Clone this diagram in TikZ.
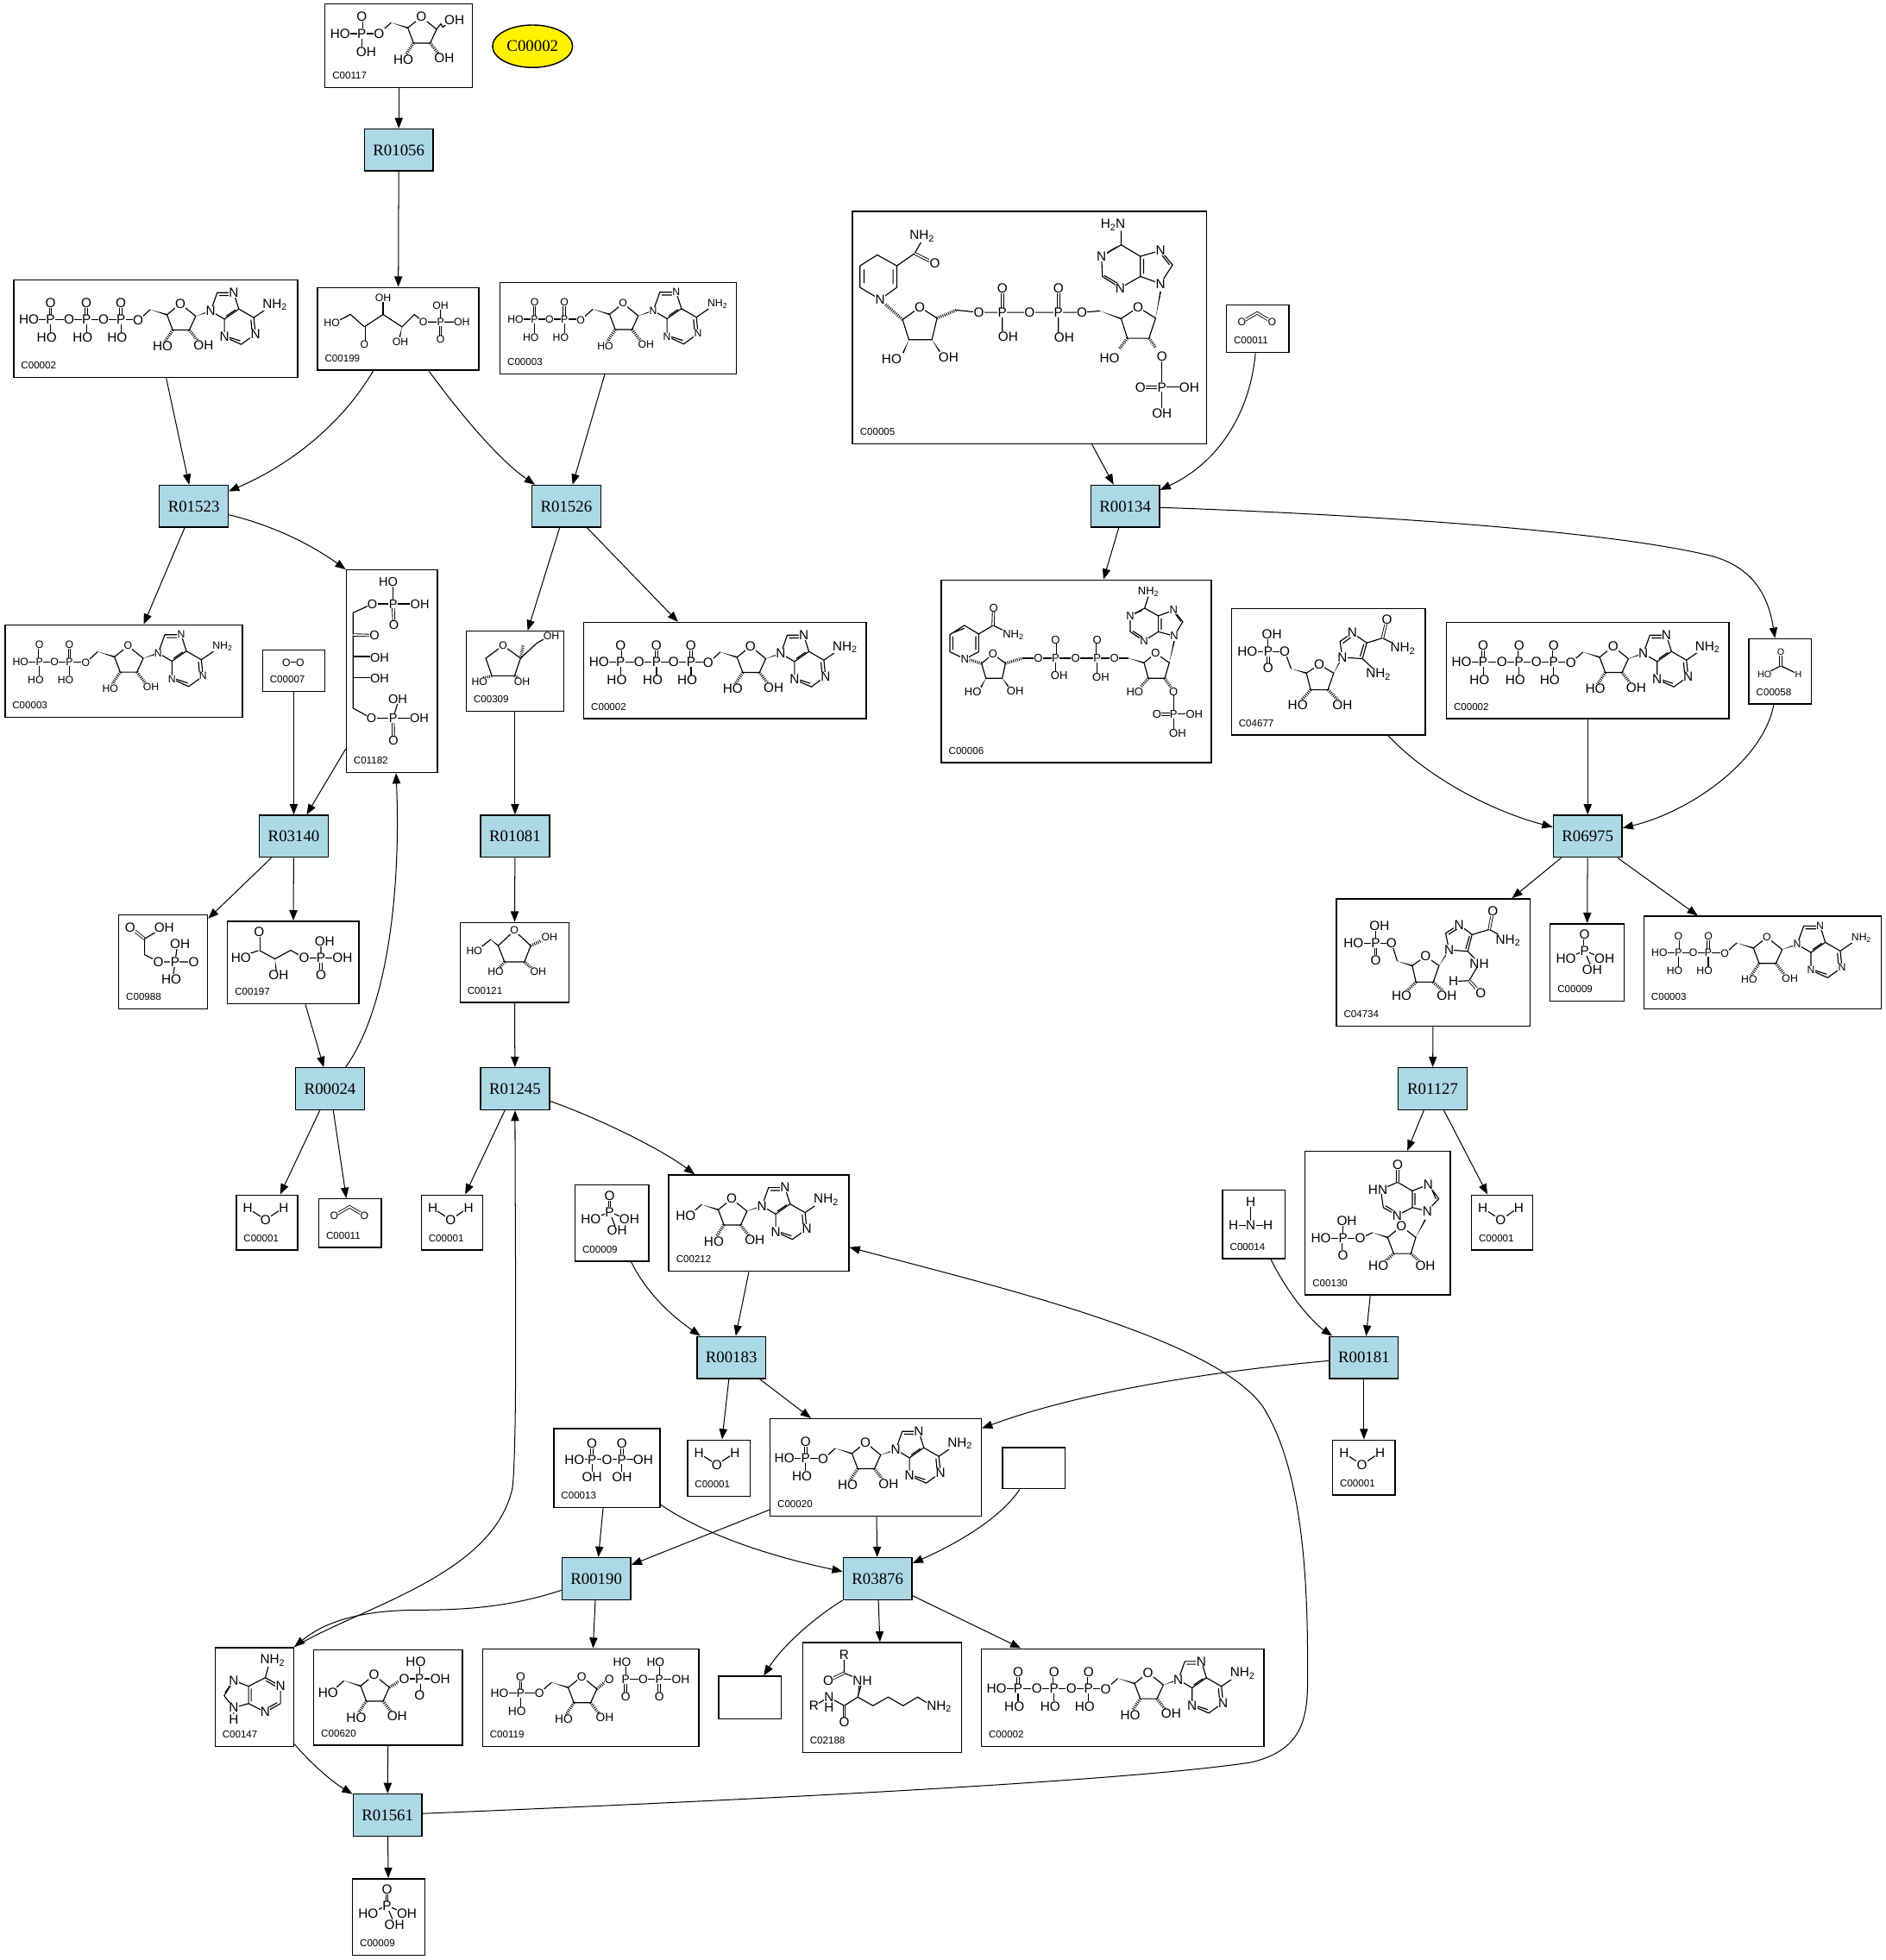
\documentclass[tikz,border=0pt]{standalone}
\usepackage{fontspec}
\setmainfont{Liberation Serif}
\newfontfamily\chemfont{Liberation Sans}
\usetikzlibrary{arrows.meta,calc,shapes.geometric}
\definecolor{rxnblue}{RGB}{173,216,230}

\newcommand{\atm}[2]{\node[atom] at (#1) {#2};}
\newcommand{\atomsz}[1]{\tikzset{atom/.append style={scale=#1}}}
\newcommand{\wdg}[2]{\fill (#1) -- ($(#2)!1.2pt!90:(#1)$) -- ($(#2)!1.2pt!-90:(#1)$) -- cycle;}
\newcommand{\hsh}[2]{\draw[hashb] (#1) -- (#2);}
\newcommand{\nhtwo}{NH\textsubscript{2}}
% phosphate, OH below
\newcommand{\phos}[2]{\begin{scope}[shift={(#1,#2)}]
  \draw[bond] (-60,0) -- (60,0) (0,0) -- (0,55);
  \draw[dbond] (0,0) -- (0,-58);
  \atm{0,-58}{O} \atm{-13,63}{HO} \atm{0,0}{P}
\end{scope}}
% phosphate, OH above
\newcommand{\phosu}[2]{\begin{scope}[shift={(#1,#2)}]
  \draw[bond] (-60,0) -- (60,0) (0,0) -- (0,-55);
  \draw[dbond] (0,0) -- (0,58);
  \atm{0,58}{O} \atm{13,-60}{OH} \atm{0,0}{P}
\end{scope}}
% ring, origin on the 5' oxygen
\newcommand{\ribo}[2]{\begin{scope}[shift={(#1,#2)}]
  \draw[bond] (0,0) -- (42,-38) (100,-20) -- (147,-58) -- (200,-15) -- (178,33) -- (120,33) -- cycle;
  \wdg{42,-38}{100,-20}
  \hsh{120,33}{92,75} \hsh{178,33}{208,72}
  \atm{147,-58}{O} \atm{85,90}{HO} \atm{227,85}{OH}
\end{scope}}
\newcommand{\ado}[2]{\ribo{#1}{#2}\begin{scope}[shift={(#1,#2)}]
  \draw[bond] (275,-97) -- (332,-97) -- (350,-40) -- (300,-5) -- (252,-33) -- cycle;
  \draw[bond] (300,-5) -- (300,57) -- (358,83) -- (408,47) -- (402,-10) -- (350,-40) (402,-10) -- (460,-50);
  \draw[bond] (281,-87) -- (325,-87) (338,-37) -- (306,-15) (309,56) -- (355,71) (396,40) -- (392,-3);
  \wdg{200,-15}{252,-33}
  \atm{252,-33}{N} \atm{332,-97}{N} \atm{300,57}{N} \atm{408,47}{N} \atm{475,-55}{\nhtwo}
\end{scope}}

\tikzset{
  bond/.style   = {line width=0.4pt},
  dbond/.style  = {bond, double, double distance=0.6pt, line width=0.3pt},
  hashb/.style  = {line width=1.2pt, dash pattern=on 0.3pt off 0.5pt},
  atom/.style   = {transform shape, fill=white, inner sep=0.5pt, text=black,
                   font=\chemfont\fontsize{23}{23}\selectfont},
  cpdbox/.style = {draw, line width=0.5pt, inner sep=0pt, fill=white},
  cidnd/.style  = {anchor=west, inner sep=0pt, font=\chemfont\fontsize{4}{4}\selectfont},
  rxn/.style    = {draw, line width=0.5pt, fill=rxnblue, inner sep=0pt, minimum width=27.5pt,
                   minimum height=16.8pt, font=\fontsize{6.5}{7}\selectfont},
  cpdoval/.style= {draw, ellipse, line width=0.5pt, fill=yellow, inner sep=0pt, minimum width=32pt,
                   minimum height=17pt, font=\fontsize{6.5}{7}\selectfont},
  pics/nostr/.style = {code={}},
  pics/atp/.style = {code={
    \phos{130}{140}\phos{255}{140}\phos{375}{140}
    \ado{435}{143}
    \atm{55,140}{HO} \atm{195,140}{O} \atm{315,140}{O} \atm{435,143}{O}}},
  pics/adp/.style = {code={
    \atomsz{0.8}
    \phos{122}{130}\phos{226}{130}
    \ado{283}{133}
    \atm{56,130}{HO} \atm{174,130}{O} \atm{283,133}{O}}},
  pics/amp/.style = {code={
    \phos{126}{139}
    \ado{187}{143}
    \atm{52,139}{HO} \atm{187,143}{O}}},
  pics/adn/.style = {code={
    \ado{74}{143}
    \atm{61,143}{HO}}},
  pics/rfive/.style = {code={
    \draw[bond] (130,106) -- (70,106) (130,106) -- (190,106) (130,106) -- (130,155);
    \draw[dbond] (130,106) -- (130,46);
    \draw[bond] (390,91) -- (405,72) -- (412,84) -- (432,66);
    \ribo{190}{106}
    \atm{130,46}{O} \atm{55,106}{HO} \atm{145,169}{OH} \atm{130,106}{P} \atm{190,106}{O} \atm{452,59}{OH}}},
  pics/rulp/.style = {code={
    \atomsz{0.8}
    \draw[bond] (70,120) -- (117,96) -- (165,139) -- (230,96) -- (296,139) -- (339,96) -- (370,122) -- (430,122) -- (490,122) (430,122) -- (430,75);
    \draw[bond] (230,96) -- (230,50);
    \draw[dbond] (165,139) -- (165,190);
    \draw[dbond] (430,122) -- (430,175);
    \wdg{296,139}{288,175}
    \atm{52,126}{HO} \atm{165,200}{O} \atm{230,39}{OH} \atm{290,190}{OH} \atm{370,122}{O}
    \atm{430,122}{P} \atm{430,65}{OH} \atm{504,122}{OH} \atm{430,183}{O}}},
  pics/rulring/.style = {code={
    \atomsz{0.8}
    \draw[bond] (70,96) -- (130,52) -- (191,96) -- (170,157) -- (91,157) -- cycle;
    \draw[bond] (191,96) -- (248,43) -- (285,22);
    \hsh{91,157}{62,165} \hsh{170,157}{190,170} \hsh{191,96}{200,50}
    \atm{130,52}{O} \atm{48,178}{HO} \atm{196,178}{OH} \atm{298,20}{OH}}},
  pics/otwo/.style = {code={
    \atomsz{0.8}
    \draw[dbond] (85,48) -- (133,48);
    \atm{85,48}{O} \atm{133,48}{O}}},
  pics/cotwo/.style = {code={
    \atomsz{0.8}
    \draw[dbond] (56,61) -- (109,30) -- (161,61);
    \atm{56,61}{O} \atm{161,61}{O}}},
  pics/water/.style = {code={
    \draw[bond] (42,48) -- (104,88) -- (167,46);
    \atm{42,48}{H} \atm{104,88}{O} \atm{167,46}{H}}},
  pics/ammonia/.style = {code={
    \draw[bond] (40,125) -- (160,125) (100,43) -- (100,125);
    \atm{100,43}{H} \atm{100,125}{N} \atm{40,125}{H} \atm{160,125}{H}}},
  pics/orthop/.style = {code={
    \draw[bond] (122,96) -- (60,122) (122,96) -- (185,122) (122,96) -- (148,161);
    \draw[dbond] (122,96) -- (122,39);
    \atm{122,39}{O} \atm{57,122}{HO} \atm{191,122}{OH} \atm{148,161}{OH} \atm{122,96}{P}}},
  pics/formate/.style = {code={
    \atomsz{0.7}
    \draw[bond] (56,126) -- (113,96) -- (174,126);
    \draw[dbond] (113,96) -- (113,48);
    \atm{113,48}{O} \atm{56,126}{HO} \atm{174,126}{H}}},
  pics/ppi/.style = {code={
    \draw[bond] (74,109) -- (313,109) (135,109) -- (135,160) (239,109) -- (239,160);
    \draw[dbond] (135,109) -- (135,52);
    \draw[dbond] (239,109) -- (239,52);
    \atm{135,52}{O} \atm{239,52}{O} \atm{74,109}{HO} \atm{187,109}{O} \atm{313,109}{OH}
    \atm{135,109}{P} \atm{239,109}{P} \atm{135,170}{OH} \atm{239,170}{OH}}},
  pics/adenine/.style = {code={
    \draw[bond] (67,117) -- (34,170) -- (67,212) -- (119,197) -- (119,137) -- cycle;
    \draw[bond] (119,137) -- (177,107) -- (230,137) -- (230,197) -- (177,227) -- (119,197) (177,107) -- (190,60) (67,212) -- (67,240);
    \draw[bond] (128,145) -- (128,190) (180,118) -- (218,140) (180,216) -- (218,194) (60,125) -- (37,160);
    \atm{67,117}{N} \atm{67,212}{N} \atm{67,252}{H} \atm{202,47}{\nhtwo} \atm{230,137}{N} \atm{177,227}{N}}},
  pics/rfiveone/.style = {code={
    \draw[bond] (370,102) -- (317,102) (370,102) -- (430,102) (370,102) -- (370,55);
    \draw[dbond] (370,102) -- (370,160);
    \ribo{65}{147}
    \hsh{265,132}{305,108}
    \atm{52,150}{HO} \atm{317,102}{O} \atm{357,42}{HO} \atm{370,160}{O} \atm{442,102}{OH} \atm{370,102}{P}}},
  pics/prpp/.style = {code={
    \atomsz{0.9}
    \phos{135}{157}
    \draw[bond] (500,109) -- (680,109) (500,109) -- (500,60) (617,109) -- (617,60);
    \draw[dbond] (500,109) -- (500,170);
    \draw[dbond] (617,109) -- (617,170);
    \ribo{200}{157}
    \hsh{400,142}{432,115}
    \atm{61,157}{HO} \atm{200,157}{O} \atm{443,109}{O} \atm{500,109}{P} \atm{487,48}{HO} \atm{500,170}{O}
    \atm{561,109}{O} \atm{617,109}{P} \atm{604,48}{HO} \atm{617,170}{O} \atm{691,109}{OH}}},
  pics/ribos/.style = {code={
    \atomsz{0.8}
    \draw[bond] (60,100) -- (109,61) (135,83) -- (191,30) -- (248,83) -- (226,139) -- (157,139) -- cycle;
    \wdg{109,61}{135,83}
    \hsh{157,139}{135,165} \hsh{226,139}{255,165} \hsh{248,83}{295,60}
    \atm{52,100}{HO} \atm{191,30}{O} \atm{313,52}{OH} \atm{126,174}{HO} \atm{274,174}{OH}}},
  pics/ribbis/.style = {code={
    \atomsz{0.95}
    \draw[bond] (93,120) -- (26,151) -- (26,483) -- (90,518) -- (240,518) (165,518) -- (181,465);
    \draw[bond] (93,120) -- (245,120) (165,120) -- (165,60) (26,303) -- (100,303) (26,376) -- (100,376);
    \draw[dbond] (165,120) -- (168,193);
    \draw[dbond] (165,518) -- (166,596);
    \draw[dbond] (26,228) -- (100,230);
    \atm{148,43}{HO} \atm{165,120}{P} \atm{93,120}{O} \atm{258,120}{OH} \atm{168,193}{O}
    \atm{100,230}{O} \atm{118,306}{OH} \atm{118,378}{OH} \atm{90,518}{O} \atm{165,518}{P}
    \atm{181,451}{OH} \atm{256,518}{OH} \atm{166,596}{O}}},
  pics/phglyc/.style = {code={
    \draw[bond] (65,120) -- (112,103) -- (167,133) -- (222,103) -- (269,130) -- (390,130) (327,130) -- (327,85);
    \draw[dbond] (112,103) -- (112,40);
    \draw[dbond] (327,130) -- (327,188);
    \wdg{167,133}{172,178}
    \atm{49,130}{HO} \atm{112,40}{O} \atm{180,190}{OH} \atm{269,130}{O} \atm{327,130}{P}
    \atm{340,73}{OH} \atm{402,130}{OH} \atm{327,188}{O}}},
  pics/phgly/.style = {code={
    \draw[dbond] (42,45) -- (92,85);
    \draw[bond] (92,85) -- (150,50) (92,85) -- (92,140) -- (140,165) -- (250,165) (198,165) -- (205,115) (198,165) -- (192,210);
    \atm{42,45}{O} \atm{160,45}{OH} \atm{140,165}{O} \atm{198,165}{P} \atm{215,102}{OH} \atm{263,165}{O} \atm{185,225}{HO}}},
  pics/lysacyl/.style = {code={
    \draw[bond] (147,60) -- (147,108) -- (210,135) -- (194,192) (194,192) -- (147,222) -- (94,192) -- (55,215);
    \draw[bond] (194,192) -- (247,222) -- (300,192) -- (352,222) -- (402,192) -- (445,218);
    \draw[dbond] (147,108) -- (92,135);
    \draw[dbond] (147,222) -- (147,280);
    \wdg{194,192}{200,145}
    \atm{147,45}{R} \atm{92,135}{O} \atm{210,135}{NH} \atm{94,192}{N} \atm{94,228}{H} \atm{42,222}{R}
    \atm{147,280}{O} \atm{477,225}{\nhtwo}}},
  pics/aicar/.style = {code={
    \phosu{130}{151}
    \draw[bond] (210,211) -- (188,151) (263,226) -- (308,196) -- (358,226) -- (338,284) -- (278,284) -- cycle;
    \wdg{210,211}{263,226}
    \wdg{358,226}{388,171}
    \hsh{278,284}{245,322} \hsh{338,284}{375,322}
    \draw[bond] (388,171) -- (380,116) -- (423,86) -- (473,121) -- (458,176) -- cycle (390,122) -- (420,100) (463,125) -- (450,168);
    \draw[bond] (473,121) -- (528,104) -- (590,136) (458,176) -- (500,215);
    \draw[dbond] (528,104) -- (543,41);
    \atm{58,151}{HO} \atm{188,151}{O} \atm{308,196}{O} \atm{233,336}{HO} \atm{388,336}{OH}
    \atm{388,171}{N} \atm{423,86}{N} \atm{543,41}{O} \atm{598,141}{\nhtwo} \atm{513,231}{\nhtwo}}},
  pics/faicar/.style = {code={
    \phosu{139}{157}
    \draw[bond] (214,219) -- (194,157) (266,235) -- (312,202) -- (359,235) -- (339,292) -- (279,292) -- cycle;
    \wdg{214,219}{266,235}
    \wdg{359,235}{394,180}
    \hsh{279,292}{245,325} \hsh{339,292}{375,325}
    \draw[bond] (394,180) -- (382,122) -- (429,92) -- (474,127) -- (459,185) -- cycle (392,126) -- (425,105) (465,132) -- (452,177);
    \draw[bond] (474,127) -- (534,109) -- (590,140) (459,185) -- (499,227) -- (464,287) -- (425,289);
    \draw[dbond] (534,109) -- (546,45);
    \draw[dbond] (464,287) -- (504,330);
    \atm{62,157}{HO} \atm{194,157}{O} \atm{312,202}{O} \atm{229,339}{HO} \atm{386,339}{OH}
    \atm{394,180}{N} \atm{429,92}{N} \atm{546,45}{O} \atm{599,147}{\nhtwo} \atm{499,227}{NH}
    \atm{409,289}{H} \atm{504,330}{O}}},
  pics/imp/.style = {code={
    \phosu{134}{305}
    \draw[bond] (194,305) -- (237,285) (289,302) -- (337,263) -- (387,302) -- (370,358) -- (310,358) -- cycle;
    \wdg{237,285}{289,302}
    \wdg{387,302}{420,240}
    \hsh{310,358}{280,385} \hsh{370,358}{400,385}
    \draw[bond] (427,210) -- (467,167) -- (430,118) -- (375,140) -- (375,198) -- cycle;
    \draw[bond] (375,198) -- (322,225) -- (274,198) -- (265,135) -- (324,110) -- (375,140);
    \draw[bond] (440,128) -- (457,168) (384,148) -- (384,190) (318,214) -- (282,192);
    \draw[dbond] (324,110) -- (324,48);
    \atm{57,305}{HO} \atm{194,305}{O} \atm{337,263}{O} \atm{257,400}{HO} \atm{420,400}{OH}
    \atm{427,210}{N} \atm{430,118}{N} \atm{322,225}{N} \atm{255,135}{HN} \atm{324,48}{O}}},
  pics/nadph/.style = {code={
    \draw[bond] (98,309) -- (28,267) -- (28,192) -- (88,154) -- (156,192) -- (156,267) -- cycle (42,252) -- (42,205) (143,255) -- (143,205);
    \draw[bond] (156,192) -- (218,149) -- (243,105);
    \draw[dbond] (218,149) -- (288,184);
    \hsh{176,379}{115,325}
    \draw[bond] (176,379) -- (236,336) -- (296,374) -- (278,449) -- (198,449) -- cycle;
    \wdg{198,449}{178,495} \wdg{278,449}{305,490}
    \hsh{296,374}{363,346}
    \draw[bond] (363,346) -- (441,354) -- (800,354) -- (863,349) (523,354) -- (523,420) (718,354) -- (718,425);
    \draw[dbond] (523,354) -- (523,269);
    \draw[dbond] (718,354) -- (718,269);
    \wdg{863,349}{936,376}
    \draw[bond] (936,376) -- (995,336) -- (1056,374) -- (1033,444) -- (958,444) -- cycle;
    \wdg{1056,374}{1073,282}
    \hsh{958,444}{930,480} \hsh{1033,444}{1055,475}
    \draw[bond] (1078,506) -- (1078,690) (1078,614) -- (1155,614);
    \draw[dbond] (1078,614) -- (1003,614);
    \draw[bond] (1073,254) -- (1115,189) -- (1073,139) -- (1003,159) -- (1003,229) -- cycle;
    \draw[bond] (1003,229) -- (933,269) -- (871,229) -- (868,159) -- (936,119) -- (1003,159) (936,119) -- (936,70);
    \draw[bond] (1014,168) -- (1014,220) (1078,155) -- (1104,188) (878,226) -- (922,252) (882,150) -- (920,127);
    \atm{98,309}{N} \atm{243,89}{\nhtwo} \atm{288,184}{O} \atm{236,336}{O} \atm{138,516}{HO} \atm{336,509}{OH}
    \atm{441,354}{O} \atm{523,354}{P} \atm{523,269}{O} \atm{543,439}{OH} \atm{618,354}{O}
    \atm{718,354}{P} \atm{718,269}{O} \atm{738,442}{OH} \atm{800,354}{O} \atm{995,336}{O}
    \atm{896,514}{HO} \atm{1078,506}{O} \atm{1078,614}{P} \atm{1003,614}{O} \atm{1173,614}{OH}
    \atm{1078,704}{OH} \atm{1073,254}{N} \atm{1073,139}{N} \atm{933,269}{N} \atm{868,159}{N}
    \atm{908,49}{H\textsubscript{2}N}}},
  pics/nadp/.style = {code={
    \atomsz{0.85}
    \draw[bond] (84,277) -- (32,252) -- (32,192) -- (82,160) -- (132,190) -- (132,252) -- cycle (42,245) -- (42,198) (122,245) -- (122,198) (45,185) -- (82,170);
    \draw[bond] (132,190) -- (182,160) -- (235,186);
    \draw[dbond] (182,160) -- (184,99);
    \hsh{142,292}{100,280}
    \draw[bond] (142,292) -- (182,260) -- (225,292) -- (214,344) -- (157,344) -- cycle;
    \wdg{157,344}{140,375} \wdg{214,344}{235,372}
    \hsh{225,292}{285,274}
    \draw[bond] (285,274) -- (604,274) -- (652,274) (399,274) -- (399,325) (544,274) -- (544,330);
    \draw[dbond] (399,274) -- (399,210);
    \draw[dbond] (544,274) -- (544,210);
    \wdg{652,274}{707,290}
    \draw[bond] (707,290) -- (747,257) -- (795,290) -- (779,344) -- (722,344) -- cycle;
    \wdg{795,290}{812,215}
    \hsh{722,344}{695,375} \hsh{779,344}{800,375}
    \draw[bond] (810,390) -- (810,525) (810,469) -- (865,469);
    \draw[dbond] (810,469) -- (752,469);
    \draw[bond] (812,197) -- (842,147) -- (810,107) -- (757,127) -- (757,182) -- cycle;
    \draw[bond] (757,182) -- (707,214) -- (659,182) -- (659,127) -- (709,100) -- (757,127) (709,100) -- (722,60);
    \draw[bond] (767,135) -- (767,175) (816,120) -- (836,147) (668,180) -- (700,200) (668,122) -- (700,108);
    \atm{84,277}{N} \atm{184,99}{O} \atm{252,192}{\nhtwo} \atm{182,260}{O} \atm{112,392}{HO} \atm{259,389}{OH}
    \atm{339,274}{O} \atm{399,274}{P} \atm{399,210}{O} \atm{412,335}{OH} \atm{469,274}{O}
    \atm{544,274}{P} \atm{544,210}{O} \atm{557,339}{OH} \atm{604,274}{O} \atm{747,257}{O}
    \atm{675,390}{HO} \atm{810,390}{O} \atm{810,469}{P} \atm{752,469}{O} \atm{882,469}{OH}
    \atm{824,534}{OH} \atm{812,197}{N} \atm{810,107}{N} \atm{707,214}{N} \atm{659,127}{N}
    \atm{722,42}{\nhtwo}}}
}

% box from its two corners, id text, structure
\newcommand{\cpd}[7]{%
  \node[cpdbox, minimum width={(#4-#2)*0.5pt}, minimum height={(#5-#3)*0.5pt}] (#1) at ({(#2+#4)/2},{(#3+#5)/2}) {};
  \node[cidnd] (#1t) at ($(#1.south west)+(6,-10)$) {#6};
  \pic[scale=0.23] at (#1.north west) {#7};}

\begin{document}
\begin{tikzpicture}[
  x=0.5pt, y=-0.5pt,
  >={Triangle[length=4.2pt,width=3.2pt]},
  edge/.style = {->, line width=0.35pt}
]
\useasboundingbox (0,0) rectangle (1508,1568);

\cpd{c00117}{260}{3}{378}{70}{C00117}{rfive}
\node[cpdoval] (ovl) at (426,37) {C00002};
\cpd{c00199}{254}{230}{383}{296}{C00199}{rulp}
\cpd{c00002a}{11}{224}{238}{302}{C00002}{atp}
\cpd{c00003a}{400}{226}{589}{299}{C00003}{adp}
\cpd{c00003b}{4}{500}{194}{574}{C00003}{adp}
\cpd{c00002b}{467}{498}{693}{575}{C00002}{atp}
\cpd{c00309}{373}{505}{451}{569}{C00309}{rulring}
\cpd{c00007}{210}{520}{260}{553}{C00007}{otwo}
\cpd{c01182}{277}{456}{350}{618}{C01182}{ribbis}
\cpd{c00988}{95}{732}{166}{807}{C00988}{phgly}
\cpd{c00197}{182}{737}{287}{803}{C00197}{phglyc}
\cpd{c00121}{368}{738}{455}{802}{C00121}{ribos}
\cpd{c00001a}{189}{956}{238}{1000}{C00001}{water}
\cpd{c00011a}{255}{959}{305}{998}{C00011}{cotwo}
\cpd{c00001b}{337}{956}{386}{1000}{C00001}{water}
\cpd{c00009a}{460}{948}{519}{1009}{C00009}{orthop}
\cpd{c00212}{535}{940}{679}{1017}{C00212}{adn}
\cpd{c00001c}{550}{1152}{600}{1197}{C00001}{water}
\cpd{c00020}{616}{1135}{785}{1213}{C00020}{amp}
\cpd{c00013}{443}{1143}{528}{1206}{C00013}{ppi}
\cpd{emptya}{802}{1158}{852}{1191}{}{nostr}
\cpd{emptyb}{575}{1341}{625}{1375}{}{nostr}
\cpd{c02188}{642}{1314}{769}{1402}{C02188}{lysacyl}
\cpd{c00002c}{785}{1319}{1011}{1397}{C00002}{atp}
\cpd{c00147}{172}{1318}{235}{1397}{C00147}{adenine}
\cpd{c00620}{251}{1320}{370}{1396}{C00620}{rfiveone}
\cpd{c00119}{386}{1319}{559}{1397}{C00119}{prpp}
\cpd{c00009b}{282}{1503}{340}{1564}{C00009}{orthop}
\cpd{c00005}{682}{169}{965}{355}{C00005}{nadph}
\cpd{c00011b}{981}{244}{1031}{282}{C00011}{cotwo}
\cpd{c00006}{753}{464}{969}{610}{C00006}{nadp}
\cpd{c04677}{985}{487}{1140}{588}{C04677}{aicar}
\cpd{c00002d}{1157}{498}{1383}{575}{C00002}{atp}
\cpd{c00058}{1399}{511}{1449}{563}{C00058}{formate}
\cpd{c04734}{1069}{719}{1224}{821}{C04734}{faicar}
\cpd{c00009c}{1240}{739}{1299}{801}{C00009}{orthop}
\cpd{c00003c}{1315}{733}{1505}{807}{C00003}{adp}
\cpd{c00130}{1044}{921}{1160}{1036}{C00130}{imp}
\cpd{c00001d}{1177}{956}{1226}{1000}{C00001}{water}
\cpd{c00014}{978}{952}{1028}{1007}{C00014}{ammonia}
\cpd{c00001e}{1066}{1152}{1116}{1196}{C00001}{water}

\node[rxn] (r01056) at (319,120) {R01056};
\node[rxn] (r01523) at (155,405) {R01523};
\node[rxn] (r01526) at (453,405) {R01526};
\node[rxn] (r00134) at (900,405) {R00134};
\node[rxn] (r03140) at (235,669) {R03140};
\node[rxn] (r01081) at (412,669) {R01081};
\node[rxn] (r06975) at (1270,669) {R06975};
\node[rxn] (r00024) at (264,871) {R00024};
\node[rxn] (r01245) at (412,871) {R01245};
\node[rxn] (r01127) at (1146,871) {R01127};
\node[rxn] (r00183) at (585,1086) {R00183};
\node[rxn] (r00181) at (1091,1086) {R00181};
\node[rxn] (r00190) at (477,1263) {R00190};
\node[rxn] (r03876) at (702,1263) {R03876};
\node[rxn] (r01561) at (310,1452) {R01561};

\draw[edge] (c00117) -- (r01056);
\draw[edge] (r01056) -- (c00199);
\draw[edge] (c00002a) -- (r01523);
\draw[edge] (c00199) .. controls (270,345) and (225,375) .. (r01523);
\draw[edge] (c00199) .. controls (360,320) and (395,365) .. (r01526);
\draw[edge] (c00003a) -- (r01526);
\draw[edge] (r01523) -- (c00003b);
\draw[edge] (r01523) .. controls (225,422) and (255,440) .. (c01182.north west);
\draw[edge] (r01526) -- (c00309);
\draw[edge] (r01526) -- (c00002b);
\draw[edge] (c00007) -- (r03140);
\draw[edge] (c01182) -- (r03140);
\draw[edge] (r03140) -- (c00988);
\draw[edge] (r03140) -- (c00197);
\draw[edge] (c00197) -- (r00024);
\draw[edge] (r00024) .. controls (308,810) and (321,720) .. (c01182);
\draw[edge] (r00024) -- (c00001a);
\draw[edge] (r00024) -- (c00011a);
\draw[edge] (c00309) -- (r01081);
\draw[edge] (r01081) -- (c00121);
\draw[edge] (c00121) -- (r01245);
\draw[edge] (r01245) -- (c00001b);
\draw[edge] (r01245) .. controls (480,895) and (530,920) .. (c00212);
\draw[edge] (c00009a) .. controls (520,1040) and (545,1058) .. (r00183);
\draw[edge] (c00212) -- (r00183);
\draw[edge] (r00183) -- (c00001c);
\draw[edge] (r00183) -- (c00020);
\draw[edge] (r00181) .. controls (960,1098) and (860,1115) .. (c00020);
\draw[edge] (c00020) -- (r00190);
\draw[edge] (c00013) -- (r00190);
\draw[edge] (c00013) .. controls (570,1232) and (630,1248) .. (r03876);
\draw[edge] (c00020) -- (r03876);
\draw[edge] (emptya) .. controls (800,1215) and (765,1235) .. (r03876);
\draw[edge] (r03876) .. controls (650,1295) and (625,1318) .. (emptyb);
\draw[edge] (r03876) -- (c02188);
\draw[edge] (r03876) -- (c00002c);
\draw[edge] (r00190) -- (c00119);
\draw[edge] (r00190) .. controls (410,1285) and (375,1288) .. (335,1288) .. controls (290,1288) and (260,1297) .. (c00147.north east);
\draw[edge] (c00147) .. controls (248,1410) and (265,1425) .. (r01561);
\draw[edge] (c00620) -- (r01561);
\draw[edge] (r01561) -- (c00009b);
\draw[edge] (c00147.north east) .. controls (290,1285) and (395,1260) .. (410,1190) .. controls (414,1150) and (412,1000) .. (r01245);
\draw[edge] (r01561) .. controls (600,1440) and (900,1425) .. (1000,1410) .. controls (1045,1400) and (1046,1370) .. (1046,1340) .. controls (1046,1280) and (1045,1180) .. (1010,1125) .. controls (970,1070) and (800,1030) .. (c00212);
\draw[edge] (c00005) -- (r00134);
\draw[edge] (c00011b) .. controls (1000,330) and (975,370) .. (r00134);
\draw[edge] (r00134) -- (c00006);
\draw[edge] (r00134) .. controls (1100,412) and (1290,425) .. (1370,445) .. controls (1405,455) and (1415,480) .. (c00058);
\draw[edge] (c04677) .. controls (1140,620) and (1190,648) .. (r06975);
\draw[edge] (c00002d) -- (r06975);
\draw[edge] (c00058) .. controls (1410,610) and (1350,650) .. (r06975);
\draw[edge] (r06975) -- (c04734);
\draw[edge] (r06975) -- (c00009c);
\draw[edge] (r06975) -- (c00003c);
\draw[edge] (c04734) -- (r01127);
\draw[edge] (r01127) -- (c00130);
\draw[edge] (r01127) -- (c00001d);
\draw[edge] (c00014) .. controls (1030,1035) and (1050,1058) .. (r00181);
\draw[edge] (c00130) -- (r00181);
\draw[edge] (r00181) -- (c00001e);
\end{tikzpicture}
\end{document}
